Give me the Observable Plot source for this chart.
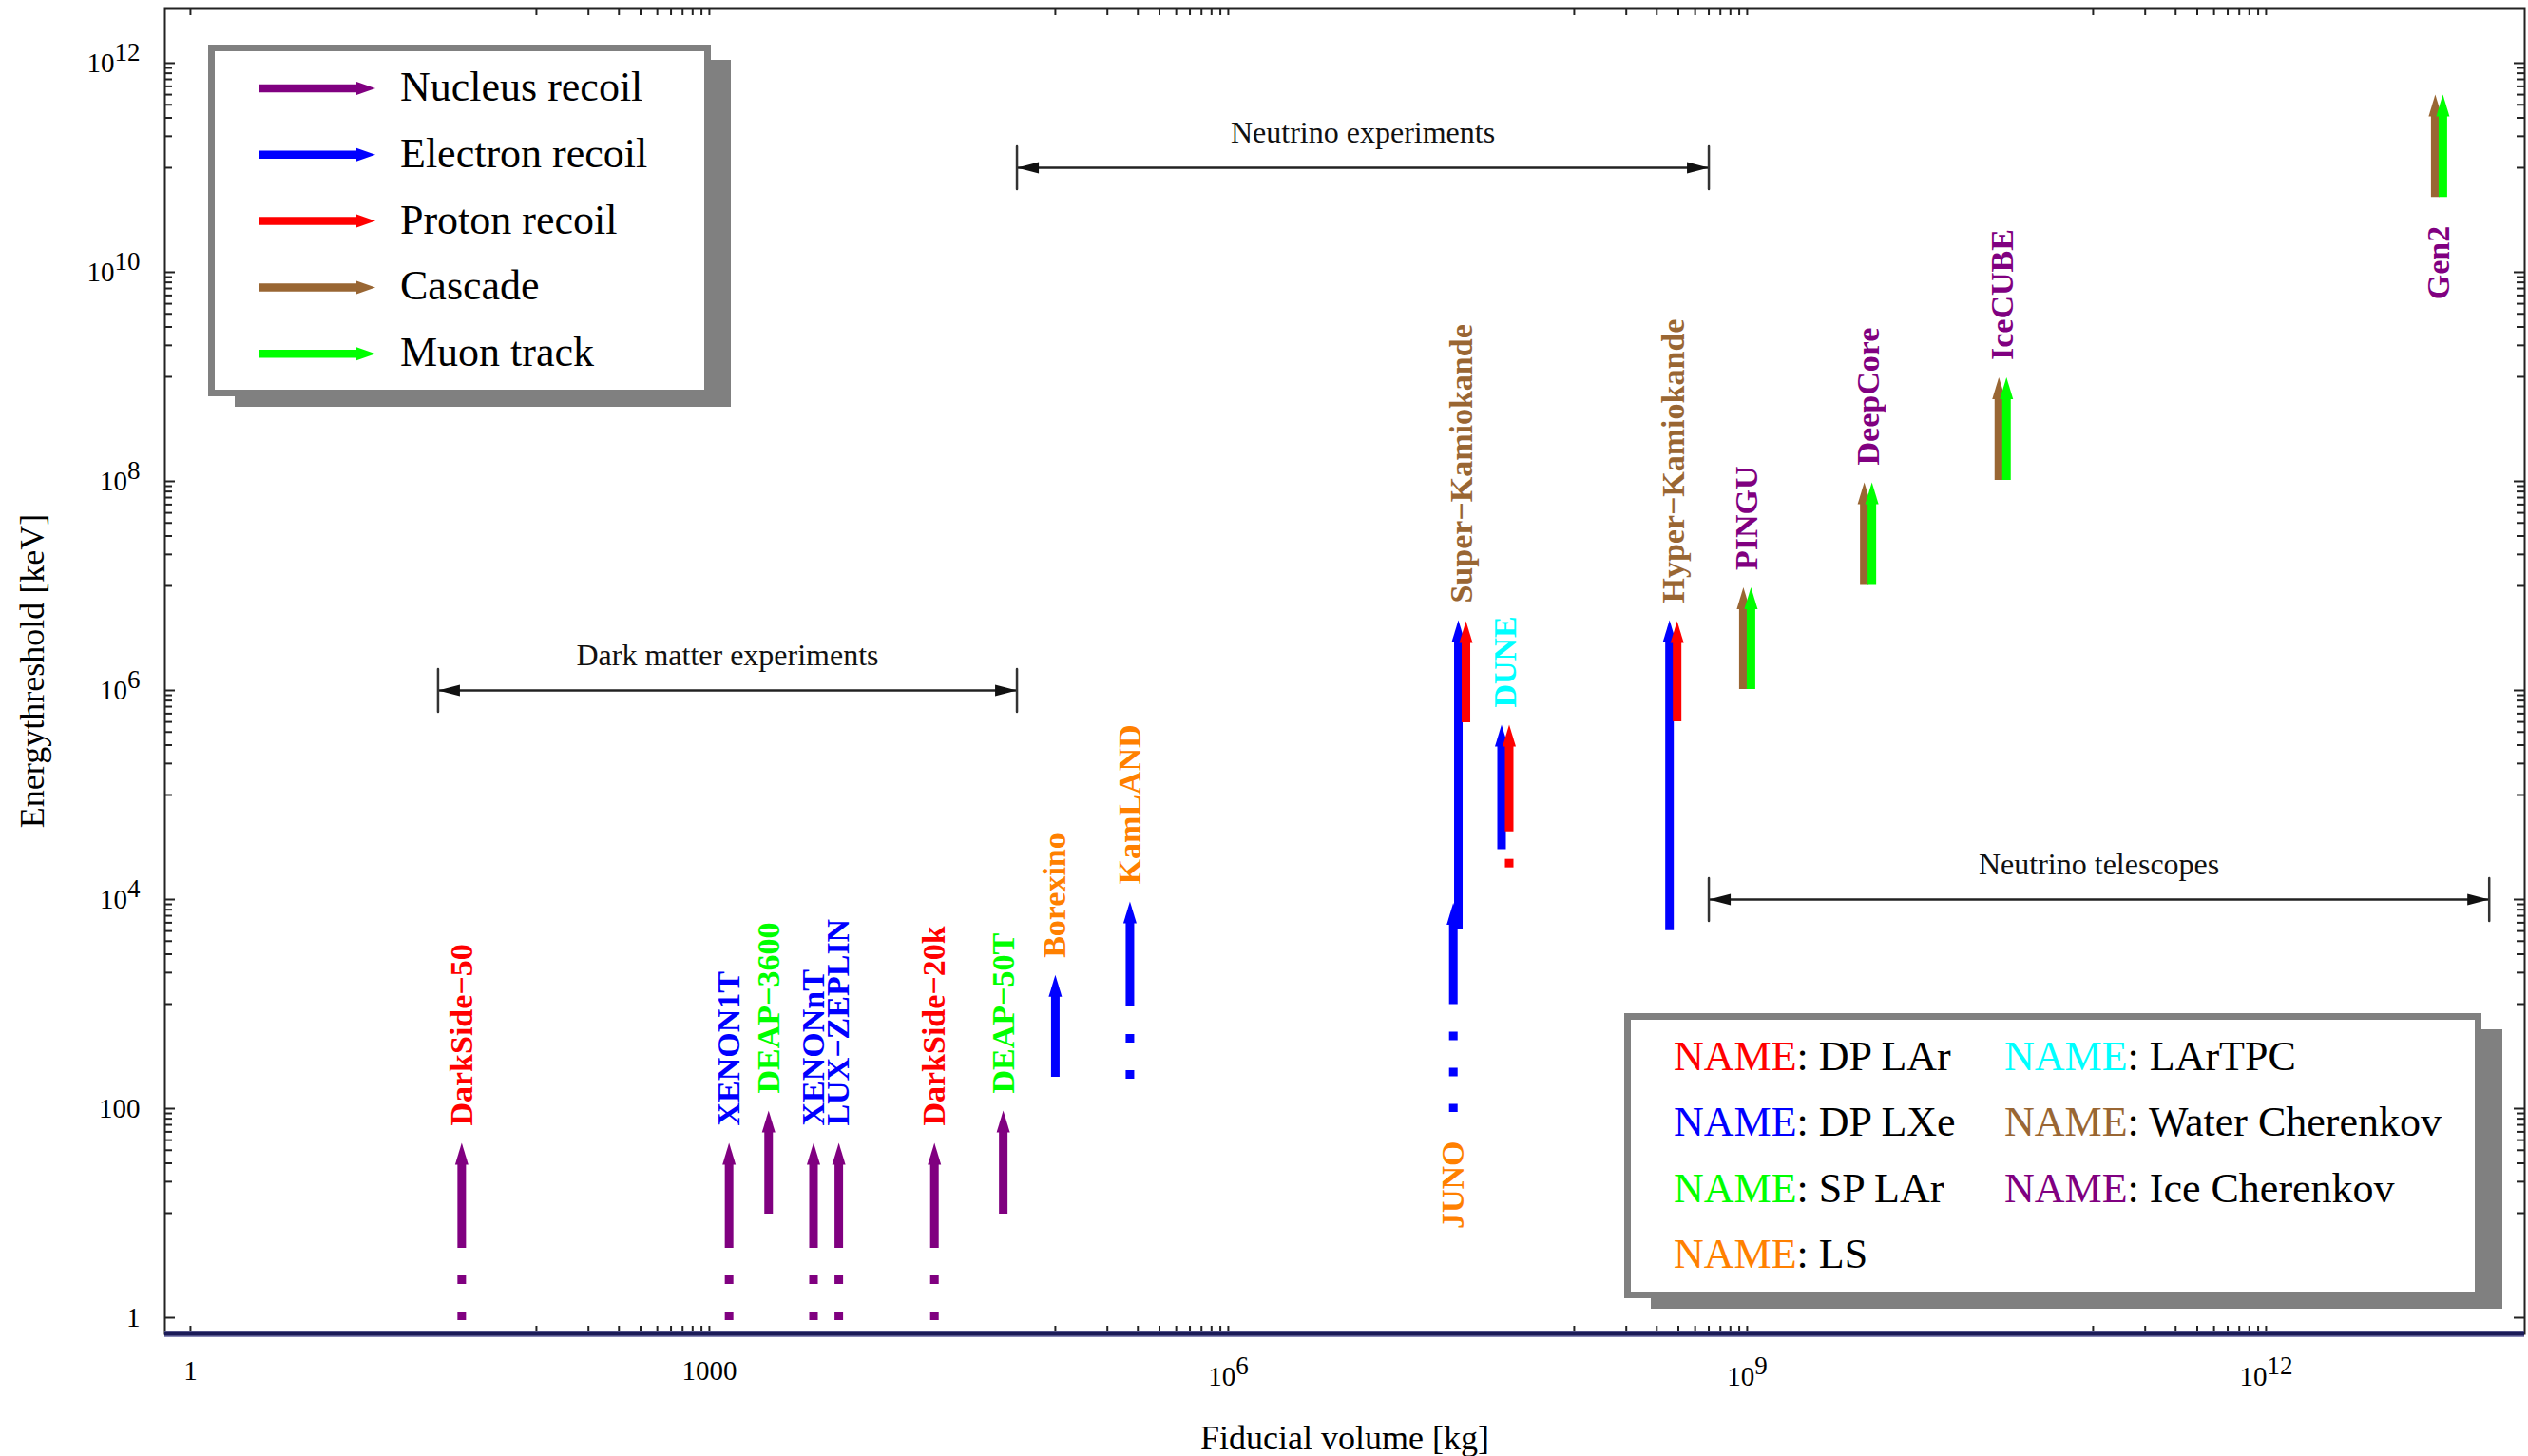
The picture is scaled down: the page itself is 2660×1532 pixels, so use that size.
<!DOCTYPE html>
<html><head><meta charset="utf-8">
<script src="https://cdn.jsdelivr.net/npm/d3@7"></script>
<script src="https://cdn.jsdelivr.net/npm/@observablehq/plot@0.6"></script>
<style>html,body{margin:0;padding:0;background:#fff;} #chart{width:2660px;height:1532px;}</style>
</head><body><div id="chart"></div>
<script>
// ---------------- data ----------------
const experiments = ["DarkSide−50","XENON1T","DEAP−3600","XENONnT","LUX−ZEPLIN","DarkSide−20k","DEAP−50T","Borexino","KamLAND","JUNO","Super−Kamiokande","DUNE","Hyper−Kamiokande","PINGU","DeepCore","IceCUBE","Gen2"];
const massKg = [37, 1300, 2200, 4000, 5600, 2.0e4, 5.0e4, 1.0e5, 2.7e5, 2.0e7, 2.25e7, 4.0e7, 3.74e8, 1.0e9, 5.0e9, 3.0e10, 1.0e13];
const detector = ["DP LAr","DP LXe","SP LAr","DP LXe","DP LXe","DP LAr","SP LAr","LS","LS","LS","Water Cherenkov","LArTPC","Water Cherenkov","Ice Cherenkov","Ice Cherenkov","Ice Cherenkov","Ice Cherenkov"];
const labelSide = ["above","above","above","above","above","above","above","above","above","below","above","above","above","above","above","above","below"];

const arrowExp = ["DarkSide−50","XENON1T","DEAP−3600","XENONnT","LUX−ZEPLIN","DarkSide−20k","DEAP−50T","Borexino","KamLAND","JUNO",
  "Super−Kamiokande","Super−Kamiokande","DUNE","DUNE","Hyper−Kamiokande","Hyper−Kamiokande",
  "PINGU","PINGU","DeepCore","DeepCore","IceCUBE","IceCUBE","Gen2","Gen2"];
const arrowSignal = ["Nucleus recoil","Nucleus recoil","Nucleus recoil","Nucleus recoil","Nucleus recoil","Nucleus recoil","Nucleus recoil",
  "Electron recoil","Electron recoil","Electron recoil",
  "Electron recoil","Proton recoil","Electron recoil","Proton recoil","Electron recoil","Proton recoil",
  "Cascade","Muon track","Cascade","Muon track","Cascade","Muon track","Cascade","Muon track"];
const arrowLowE  = [4.6, 4.6, 9.8, 4.6, 4.6, 4.6, 9.8, 200, 940, 990, 5170, 4.9e5, 3.0e4, 4.45e4, 5040, 5.0e5, 1.02e6, 1.02e6, 1.01e7, 1.01e7, 1.02e8, 1.02e8, 5.2e10, 5.2e10];
const arrowHighE = [47, 47, 96, 47, 47, 47, 96, 1900, 9600, 9300, 4.7e6, 4.6e6, 4.7e5, 4.7e5, 4.7e6, 4.6e6, 9.7e6, 9.7e6, 9.8e7, 9.8e7, 9.9e8, 9.9e8, 5.0e11, 5.0e11];
const arrowDashE = [0.9, 0.9, null, 0.9, 0.9, 0.9, null, null, 183, 92, null, null, null, 1.95e4, null, null, null, null, null, null, null, null, null, null];

const rangeNames = ["Dark matter experiments", "Neutrino experiments", "Neutrino telescopes"];
const rangeX1 = [27, 6.0e4, 6.0e8];
const rangeX2 = [6.0e4, 6.0e8, 1.95e13];
const rangeY  = [1e6, 1e11, 1e4];

const xMajor = [1, 1e3, 1e6, 1e9, 1e12];
const xMajorLabels = ["1", "1000", "10^6", "10^9", "10^12"];
const yMajor = [1, 100, 1e4, 1e6, 1e8, 1e10, 1e12];
const yMajorLabels = ["1", "100", "10^4", "10^6", "10^8", "10^10", "10^12"];

const signals = ["Nucleus recoil","Electron recoil","Proton recoil","Cascade","Muon track"];
const signalColors = ["#800080","#0000ff","#ff0000","#996633","#00ff00"];
const detectorNames = ["DP LAr","DP LXe","SP LAr","LS","LArTPC","Water Cherenkov","Ice Cherenkov"];
const detectorColors = ["#ff0000","#0000ff","#00ff00","#ff8000","#00ffff","#996633","#800080"];

// ---------------- layout ----------------
const W = 2660, H = 1532;
const mL = 173, mR = 4, mT = 8, mB = 129;
const frameW = W - mL - mR, frameH = H - mT - mB;
const xDomain = [10 ** -0.148, 10 ** 13.495];
const yDomain = [10 ** -0.1545, 10 ** 12.527];
const PAIR_DX = 4;

const sigColor = new Map(signals.map((s, i) => [s, signalColors[i]]));
const detColor = new Map(detectorNames.map((s, i) => [s, detectorColors[i]]));

const arrows = arrowExp.map((e, i) => ({
  exp: e, signal: arrowSignal[i], low: arrowLowE[i], high: arrowHighE[i], dash: arrowDashE[i],
  mass: massKg[experiments.indexOf(e)]
}));
const counts = d3.rollup(arrows, v => v.length, d => d.exp);
const seen = new Map();
arrows.forEach(a => {
  const k = seen.get(a.exp) ?? 0; seen.set(a.exp, k + 1);
  a.slot = counts.get(a.exp) === 1 ? 0 : (k === 0 ? -1 : 1);
});

const labels = experiments.map((e, i) => {
  const arr = arrows.filter(a => a.exp === e);
  return {name: e, mass: massKg[i], color: detColor.get(detector[i]), side: labelSide[i],
    top: d3.max(arr, a => a.high), bottom: d3.min(arr, a => a.dash ?? a.low)};
});
const ranges = rangeNames.map((n, i) => ({name: n, x1: rangeX1[i], x2: rangeX2[i], y: rangeY[i]}));

const xTicks = [...xMajor];
for (const p of [2, 5, 8, 11]) for (let m = 1; m <= 9; m++) xTicks.push(m * 10 ** p);
const yMinor = [];
for (const p of [1, 3, 5, 7, 9, 11]) for (let m = 1; m <= 9; m++) yMinor.push(m * 10 ** p);

const xLab = new Map(xMajor.map((v, i) => [v, xMajorLabels[i]]));
const yLab = new Map(yMajor.map((v, i) => [v, yMajorLabels[i]]));

const tickStroke = "#222";
const marks = [
  Plot.frame({stroke: "#222", strokeWidth: 2}),
  // inward ticks
  Plot.tickX(xTicks, {x: d => d, insetTop: frameH - 8, stroke: tickStroke, strokeWidth: 2}),
  Plot.tickX(xTicks, {x: d => d, insetBottom: frameH - 8, stroke: tickStroke, strokeWidth: 2}),
  Plot.tickY(yMinor, {y: d => d, insetRight: frameW - 8, stroke: tickStroke, strokeWidth: 2}),
  Plot.tickY(yMajor, {y: d => d, insetRight: frameW - 11, stroke: tickStroke, strokeWidth: 2}),
  Plot.tickY(yMinor, {y: d => d, insetLeft: frameW - 8, stroke: tickStroke, strokeWidth: 2}),
  Plot.tickY(yMajor, {y: d => d, insetLeft: frameW - 11, stroke: tickStroke, strokeWidth: 2}),
  // thick navy bottom axis
  Plot.ruleY([yDomain[0]], {stroke: "#8a8ab8", strokeWidth: 7}),
  Plot.ruleY([yDomain[0]], {stroke: "#1b1b58", strokeWidth: 4}),
  // tick labels
  Plot.axisX({ticks: xMajor, anchor: "bottom", tickSize: 0, tickPadding: 28, tickFormat: d => xLab.get(d), fontSize: 29, label: null}),
  Plot.axisY({ticks: yMajor, anchor: "left", tickSize: 0, tickPadding: 26, tickFormat: d => yLab.get(d), fontSize: 29, label: null}),
  // axis titles
  Plot.text(["Fiducial volume [kg]"], {frameAnchor: "bottom", lineAnchor: "bottom", dy: 121, fontSize: 36}),
  Plot.text(["Energythreshold [keV]"], {frameAnchor: "left", rotate: -90, textAnchor: "middle", lineAnchor: "middle", dx: -139, fontSize: 36}),
  // range brackets
  Plot.ruleY(ranges, {y: "y", x1: "x1", x2: "x2", stroke: "#222", strokeWidth: 2.5}),
  Plot.vector(ranges, {x: "x1", y: "y", rotate: -90, anchor: "end", length: 23, r: 6, shape: "spike", fill: "#111", stroke: "none"}),
  Plot.vector(ranges, {x: "x2", y: "y", rotate: 90, anchor: "end", length: 23, r: 6, shape: "spike", fill: "#111", stroke: "none"}),
  Plot.vector(ranges, {x: "x1", y: "y", length: 45, anchor: "middle", shape: "arrow", r: 0, stroke: "#333", strokeWidth: 2.5}),
  Plot.vector(ranges, {x: "x2", y: "y", length: 45, anchor: "middle", shape: "arrow", r: 0, stroke: "#333", strokeWidth: 2.5}),
  Plot.text(ranges, {x: d => Math.sqrt(d.x1 * d.x2), y: "y", text: "name", lineAnchor: "bottom", dy: -26, fontSize: 32, fill: "#111"})
];

// arrows, layered by signal type
for (const s of signals) {
  const color = sigColor.get(s);
  for (const slot of [-1, 0, 1]) {
    const sub = arrows.filter(a => a.signal === s && a.slot === slot);
    if (!sub.length) continue;
    const dx = slot * PAIR_DX;
    const dashed = sub.filter(a => a.dash != null);
    if (dashed.length) marks.push(Plot.ruleX(dashed, {x: "mass", y1: "low", y2: "dash", stroke: color, strokeWidth: 9, strokeDasharray: "9,29", strokeDashoffset: 9, dx}));
    marks.push(Plot.ruleX(sub, {x: "mass", y1: "high", y2: "low", insetTop: 20, stroke: color, strokeWidth: 9, dx}));
    marks.push(Plot.vector(sub, {x: "mass", y: "high", length: 23, r: 7, shape: "spike", anchor: "end", fill: color, stroke: "none", dx}));
  }
}

// experiment labels
marks.push(Plot.text(labels.filter(d => d.side === "above"), {x: "mass", y: "top", text: "name", rotate: -90, textAnchor: "start", lineAnchor: "middle", dy: -18, fill: "color", fontWeight: "bold", fontSize: 34}));
marks.push(Plot.text(labels.filter(d => d.side === "below"), {x: "mass", y: "bottom", text: "name", rotate: -90, textAnchor: "end", lineAnchor: "middle", dy: 30, fill: "color", fontWeight: "bold", fontSize: 34}));

const chart = Plot.plot({
  width: W, height: H,
  marginLeft: mL, marginRight: mR, marginTop: mT, marginBottom: mB,
  x: {type: "log", domain: xDomain},
  y: {type: "log", domain: yDomain},
  color: {type: "identity"},
  style: {fontFamily: "'Liberation Serif', 'Times New Roman', serif", background: "white", color: "black"},
  marks
});
document.getElementById("chart").appendChild(chart);

// superscripts in tick labels
const svg = d3.select(chart);
function sup(sel, shift) {
  sel.each(function () {
    const m = /^10\^(\d+)$/.exec(this.textContent);
    if (!m) return;
    this.textContent = "";
    const t = d3.select(this);
    t.append("tspan").attr("dy", shift).text("10");
    t.append("tspan").attr("dy", -12).attr("font-size", 27).text(m[1]);
  });
}
sup(svg.selectAll('g[aria-label="x-axis tick label"] text'), 6);
sup(svg.selectAll('g[aria-label="y-axis tick label"] text'), 0);

// legends
const g = svg.append("g")
  .attr("font-family", "'Liberation Serif', 'Times New Roman', serif")
  .attr("font-size", 44)
  .attr("text-anchor", "start");
function box(x0, y0, x1, y1, sx0, sy0, sx1, sy1) {
  g.append("rect").attr("x", sx0).attr("y", sy0).attr("width", sx1 - sx0).attr("height", sy1 - sy0).attr("fill", "#808080");
  g.append("rect").attr("x", x0 + 3.5).attr("y", y0 + 3.5).attr("width", x1 - x0 - 7).attr("height", y1 - y0 - 7)
    .attr("fill", "#fff").attr("stroke", "#808080").attr("stroke-width", 7);
}
box(219, 47, 748, 417, 247, 63, 769, 428);
signals.forEach((s, i) => {
  const cy = 93 + i * 69.8, c = sigColor.get(s);
  g.append("line").attr("x1", 273).attr("x2", 378).attr("y1", cy).attr("y2", cy).attr("stroke", c).attr("stroke-width", 8.5);
  g.append("path").attr("d", `M395,${cy}L375,${cy - 7}L375,${cy + 7}Z`).attr("fill", c);
  g.append("text").attr("x", 421).attr("y", cy + 13).attr("fill", "#000").attr("text-anchor", "start").text(s);
});
box(1709, 1066, 2611, 1366, 1737, 1083, 2633, 1377);
const legCols = [1761, 2109];
const legOrder = [["DP LAr","DP LXe","SP LAr","LS"], ["LArTPC","Water Cherenkov","Ice Cherenkov"]];
legOrder.forEach((col, ci) => col.forEach((d, ri) => {
  const t = g.append("text").attr("x", legCols[ci]).attr("y", 1125.5 + ri * 69.5).attr("text-anchor", "start");
  t.append("tspan").attr("fill", detColor.get(d)).text("NAME");
  t.append("tspan").attr("fill", "#000").text(": " + d);
}));
</script>
</body></html>
